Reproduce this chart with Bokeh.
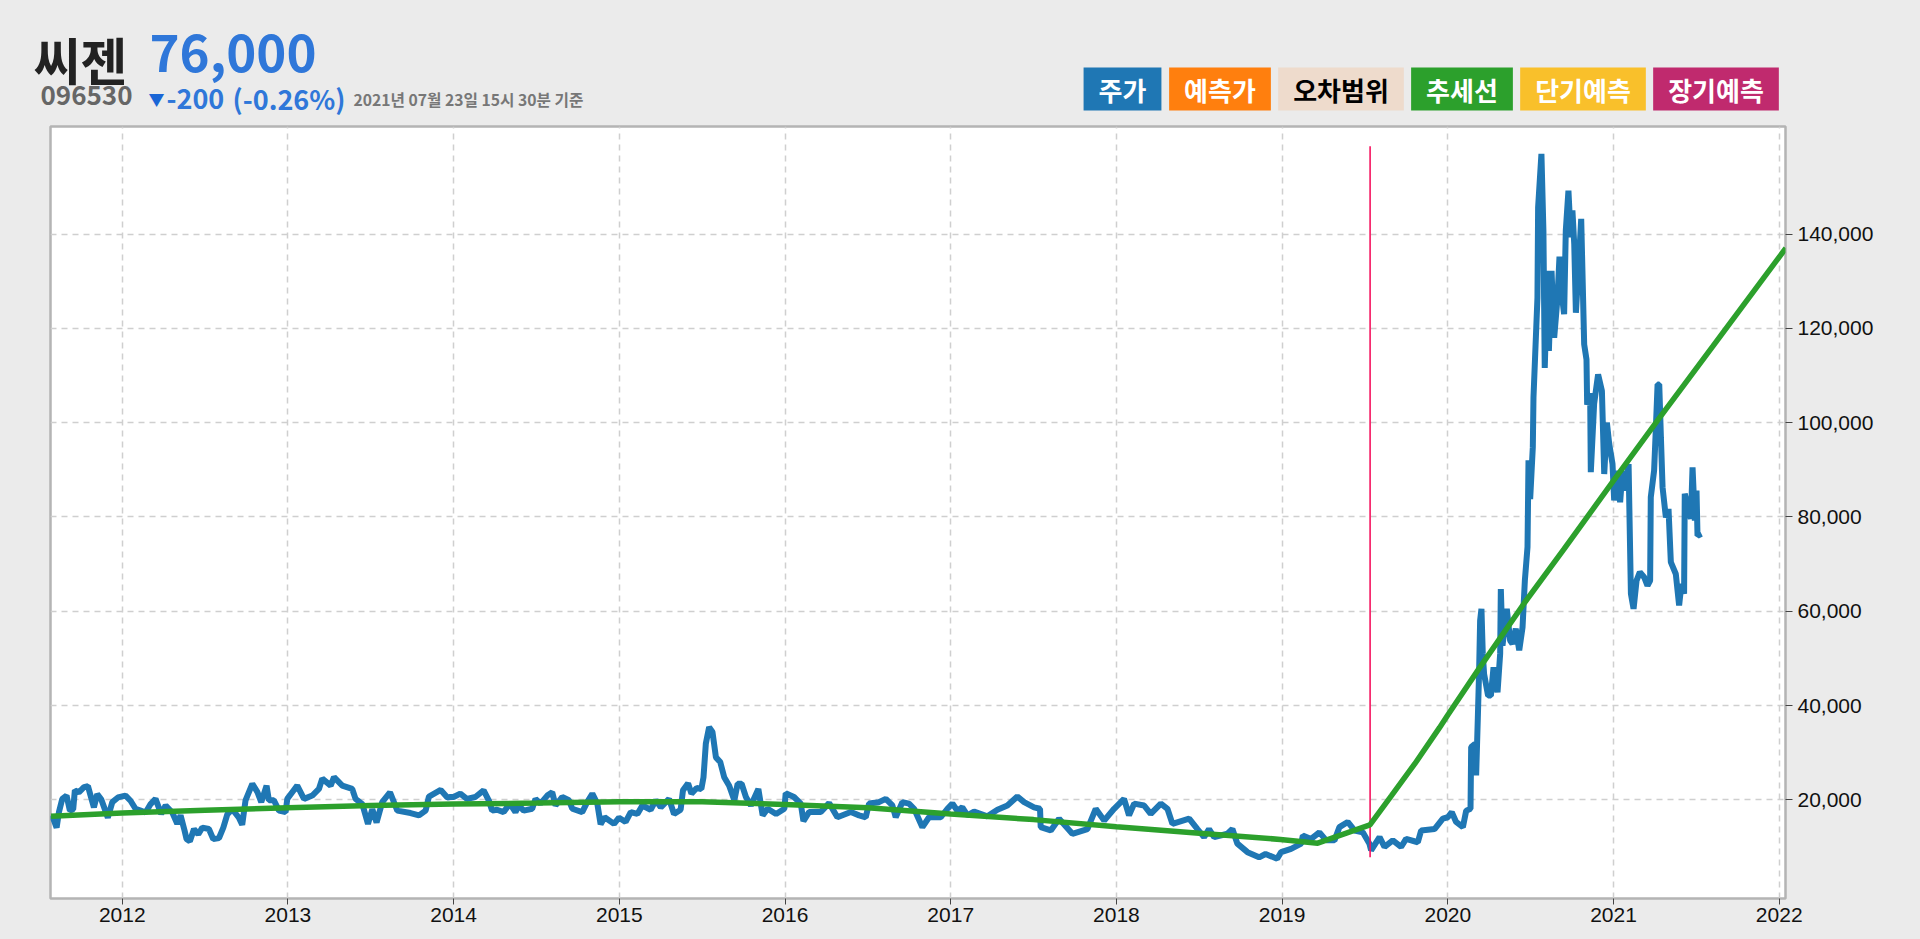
from bokeh.embed import file_html
from bokeh.layouts import column
from bokeh.models import FixedTicker, Label, LinearAxis, NumeralTickFormatter, Range1d
from bokeh.plotting import figure
from bokeh.resources import INLINE

price_dates = [
2011.573,2011.588,2011.604,2011.618,2011.638,2011.664,2011.684,2011.704,2011.714,2011.738,2011.769,2011.793,2011.809,2011.829,2011.849,2011.873,2011.899,2011.913,2011.940,2011.974,
2012.020,2012.050,2012.080,2012.111,2012.141,2012.171,2012.201,2012.235,2012.262,2012.302,2012.332,2012.352,2012.376,2012.388,2012.408,2012.433,2012.459,2012.483,2012.523,2012.549,
2012.584,2012.610,2012.634,2012.664,2012.704,2012.724,2012.744,2012.785,2012.815,2012.839,2012.871,2012.885,2012.915,2012.946,2012.986,2012.996,
2013.026,2013.056,2013.097,2013.147,2013.187,2013.207,2013.258,2013.278,2013.328,2013.388,2013.408,2013.449,2013.483,2013.509,2013.535,2013.569,2013.616,2013.660,2013.740,2013.791,2013.831,2013.851,2013.922,2013.962,
2013.980,2014.000,2014.040,2014.080,2014.131,2014.181,2014.212,2014.232,2014.262,2014.302,2014.339,2014.373,2014.393,2014.423,2014.474,2014.494,2014.524,2014.565,2014.595,2014.615,2014.655,2014.696,2014.716,2014.776,2014.806,2014.837,2014.867,2014.887,2014.911,2014.968,2014.998,
2015.038,2015.069,2015.109,2015.139,2015.189,2015.220,2015.250,2015.300,2015.330,2015.370,2015.384,2015.415,2015.435,2015.467,2015.495,2015.508,2015.522,2015.542,2015.562,2015.583,2015.609,2015.633,2015.663,2015.694,2015.714,2015.738,2015.764,2015.794,2015.839,2015.865,2015.895,2015.946,2015.996,
2016.004,2016.054,2016.095,2016.111,2016.145,2016.216,2016.266,2016.316,2016.397,2016.447,2016.487,2016.507,2016.567,2016.608,2016.648,2016.668,2016.708,2016.748,2016.779,2016.829,2016.869,2016.940,2016.980,
2017.010,2017.040,2017.070,2017.101,2017.141,2017.221,2017.282,2017.342,2017.402,2017.443,2017.503,2017.539,2017.543,2017.604,2017.654,2017.734,2017.825,2017.875,2017.926,2017.986,
2018.046,2018.076,2018.107,2018.167,2018.207,2018.268,2018.308,2018.338,2018.439,2018.489,2018.529,2018.559,2018.590,2018.670,2018.700,2018.730,2018.791,2018.861,2018.900,2018.970,2018.994,
2019.054,2019.115,2019.125,2019.175,2019.225,2019.266,2019.316,2019.346,2019.396,2019.437,2019.487,2019.527,2019.537,2019.588,2019.618,2019.668,2019.718,2019.748,2019.819,2019.839,2019.920,2019.970,
2020.000,2020.024,2020.050,2020.091,2020.111,2020.137,2020.141,2020.165,2020.171,2020.181,2020.189,2020.195,2020.203,2020.211,2020.219,2020.243,2020.260,2020.276,2020.300,2020.316,2020.320,2020.330,2020.356,2020.376,2020.390,2020.410,2020.431,2020.451,2020.465,2020.481,2020.487,2020.497,2020.513,2020.517,
2020.541,2020.545,2020.565,2020.577,2020.585,2020.602,2020.610,2020.626,2020.642,2020.662,2020.674,2020.690,2020.702,2020.712,2020.728,2020.742,2020.752,2020.763,2020.773,2020.793,2020.805,2020.823,2020.837,2020.841,2020.859,2020.863,2020.883,2020.907,2020.930,2020.944,2020.960,2020.974,2020.994,
2021.004,2021.024,2021.040,2021.054,2021.074,2021.091,2021.097,2021.105,2021.121,2021.139,2021.159,2021.185,2021.205,2021.221,2021.225,2021.245,2021.255,2021.266,2021.276,2021.286,2021.296,2021.316,2021.332,2021.346,2021.376,2021.396,2021.410,2021.426,2021.430,2021.467,2021.477,2021.491,2021.501,2021.507,2021.531,
]
price_values = [
16700,15600,14100,17400,20200,20900,17700,18000,22000,21600,22700,22900,20900,18400,21200,20100,17600,16200,19500,20500,
20900,19800,18100,17700,17300,19100,20200,17000,18800,17300,14900,16700,13500,11700,11200,13800,12700,14100,13800,11700,
11900,14100,16900,18000,16200,14700,19900,23400,21700,19500,23000,19900,19900,17700,17400,20200,
21600,23000,20200,20900,22300,24500,23000,24800,23000,22300,20200,19100,14900,18000,15200,19500,21600,17700,17200,16700,17700,20700,22100,20500,
20600,20600,21300,20200,20600,22000,19900,17700,17900,17400,19200,17400,18800,17700,18100,20200,19200,20900,21600,18800,20600,19900,18100,17400,19500,21300,19200,14800,16300,14900,16200,
15300,17400,17000,18800,17900,19900,18400,20200,17000,17900,22000,23500,21300,22500,22300,24800,31900,35400,34400,29000,28000,24800,23000,19900,23400,23400,20600,18800,22300,16700,18100,17000,18100,
21400,20600,19200,15500,17400,17400,19300,16300,17400,16700,16300,19200,19500,20200,18800,16300,19500,19200,18100,14200,16300,16300,18100,
19200,17700,18400,16700,17500,16500,17900,18800,20700,19500,18400,18100,14200,13500,16000,12800,13800,18100,15600,18100,
20200,16700,19200,18800,17000,19200,18100,14900,16000,13800,12100,13800,12100,12800,13800,10700,8900,7800,8500,7500,8900,
9600,10700,12400,11700,13100,11400,11400,14200,15300,13500,13100,10700,9300,12100,10000,11400,10000,11700,11000,13500,13800,16000,
16300,17400,15300,14200,17700,18100,31200,31900,25200,37200,47400,58000,60500,51000,46700,42100,42100,48100,42800,51000,64700,52700,60500,53800,53100,56300,51700,56600,66500,73600,92000,83800,94800,105300,
126500,145700,157000,140700,111600,132200,115200,132200,118000,126500,135200,126500,123000,140700,149200,139300,145000,137900,123300,135400,143200,116600,113400,103800,106300,89500,104000,110200,106700,89100,100000,95500,91200,
83500,89800,83100,89800,85600,91200,79200,63700,60500,66500,68300,67200,65400,66500,84200,89800,98300,108100,108100,96900,86300,79900,81700,70400,67900,61200,65800,63700,84900,79600,90500,79200,85600,76000,76400,
]

trend_dates = [2011.57,2012.0,2012.5,2013.0,2013.5,2014.0,2014.5,2015.0,2015.5,2016.0,2016.5,2017.0,2017.5,2018.0,2018.5,2018.99,2019.215,2019.53,2019.66,2019.80,2019.95,2020.0,2020.18,2020.465,2020.702,2021.0,2021.265,2021.6,2022.04]
trend_values = [16500,17200,17800,18300,18800,19100,19300,19600,19600,19000,18300,17000,15800,14300,12900,11600,10800,14700,20900,27600,35300,38000,47400,61900,73200,87700,100400,116200,137000]

marker_dates = [2019.531, 2019.531]
marker_values = [158600, 7800]

x_ticks = [2012, 2013, 2014, 2015, 2016, 2017, 2018, 2019, 2020, 2021, 2022]
y_ticks = [20000, 40000, 60000, 80000, 100000, 120000, 140000]

legend_names = ["주가", "예측가", "오차범위", "추세선", "단기예측", "장기예측"]
legend_fills = ["#1f77b4", "#ff7f0e", "#eedbcc", "#2ca02c", "#f9c02b", "#c02a6e"]
legend_inks = ["white", "white", "black", "white", "white", "white"]

BG = "#ebebeb"
KR = "Noto Sans CJK KR"
W, H = 1920, 939
HEAD = 120
F_L, F_T, F_R, F_B = 50, 126, 1785, 898

# ---- header strip: a figure whose frame fills it, because labels clip to the frame
head = figure(width=W, height=HEAD, output_backend="svg", toolbar_location=None,
              x_range=Range1d(0, W), y_range=Range1d(HEAD, 0),
              x_axis_location=None, y_axis_location=None,
              min_border=0, min_border_left=0, min_border_right=0, min_border_top=0, min_border_bottom=0,
              background_fill_color=BG, border_fill_color=BG, outline_line_color=None)
head.grid.visible = False
head.frame_align = False


def text(s, x, y, size, color, align="left", **kw):
    head.add_layout(Label(x=x, y=y, x_units="canvas", y_units="canvas", text=s,
                          text_font=KR, text_font_size=f"{size}px", text_font_style="bold",
                          text_color=color, text_align=align, text_baseline="middle", **kw))


text("씨젠", 33, 58, 51, "#222222")
text("76,000", 149, 52, 51, "#2f77d9")
text("096530", 40, 95, 26, "#666666")
text("▼", 148, 98, 16, "#1a66d6")
text("-200", 166, 98, 27, "#2f77d9")
text("(-0.26%)", 232, 98, 27, "#2f77d9")
text("2021년 07월 23일 15시 30분 기준", 353, 99, 15.7, "#777777")

box_left = [1083, 1169, 1278, 1411, 1520, 1653]
box_right = [1161, 1270, 1403, 1512, 1645, 1778]
for name, fill, ink, l, r in zip(legend_names, legend_fills, legend_inks, box_left, box_right):
    text(name, (l + r) / 2, 88.5, 26, ink, align="center", background_fill_color=fill, padding=(15, 3))

# ---- chart
p = figure(width=W, height=H - HEAD, output_backend="svg", toolbar_location=None,
           x_range=Range1d(2011.567, 2022.038), y_range=Range1d(-930, 162800),
           y_axis_location=None, x_axis_location="below",
           min_border_left=F_L, min_border_right=W - F_R, min_border_top=F_T - HEAD, min_border_bottom=H - F_B,
           background_fill_color="white", border_fill_color=BG)
p.frame_align = False
p.outline_line_color = "#b4b4b4"
p.outline_line_width = 2.5

ax = p.xaxis[0]
ax.ticker = FixedTicker(ticks=x_ticks)
ax.major_label_overrides = {t: str(t) for t in x_ticks}
ax.major_label_text_font = "Liberation Sans"
ax.major_label_text_font_size = "21px"
ax.major_label_text_color = "#111111"
ax.major_tick_in = 0
ax.major_tick_out = 6
ax.major_tick_line_color = "#444444"
ax.minor_tick_line_color = None
ax.axis_line_color = None
ax.major_label_standoff = 3

ay = LinearAxis(ticker=FixedTicker(ticks=y_ticks), formatter=NumeralTickFormatter(format="0,0"))
ay.major_label_text_font = "Liberation Sans"
ay.major_label_text_font_size = "21px"
ay.major_label_text_color = "#111111"
ay.major_tick_in = 0
ay.major_tick_out = 7
ay.major_tick_line_color = "#444444"
ay.minor_tick_line_color = None
ay.axis_line_color = None
ay.major_label_standoff = 5
p.add_layout(ay, "right")

p.xgrid.ticker = FixedTicker(ticks=x_ticks)
p.ygrid.ticker = FixedTicker(ticks=y_ticks)
for g in (p.xgrid[0], p.ygrid[0]):
    g.grid_line_color = "#cfcfcf"
    g.grid_line_width = 1.5
    g.grid_line_dash = [6, 5]

p.line(price_dates, price_values, line_color="#1f77b4", line_width=6)
p.line(marker_dates, marker_values, line_color="#f5135f", line_width=1.6)
p.line(trend_dates, trend_values, line_color="#2ca02c", line_width=5.5)

page = column(head, p, spacing=0)
html = file_html(page, INLINE).replace("<body>", f'<body style="background:{BG}">')
open("out.html", "w").write(html)
